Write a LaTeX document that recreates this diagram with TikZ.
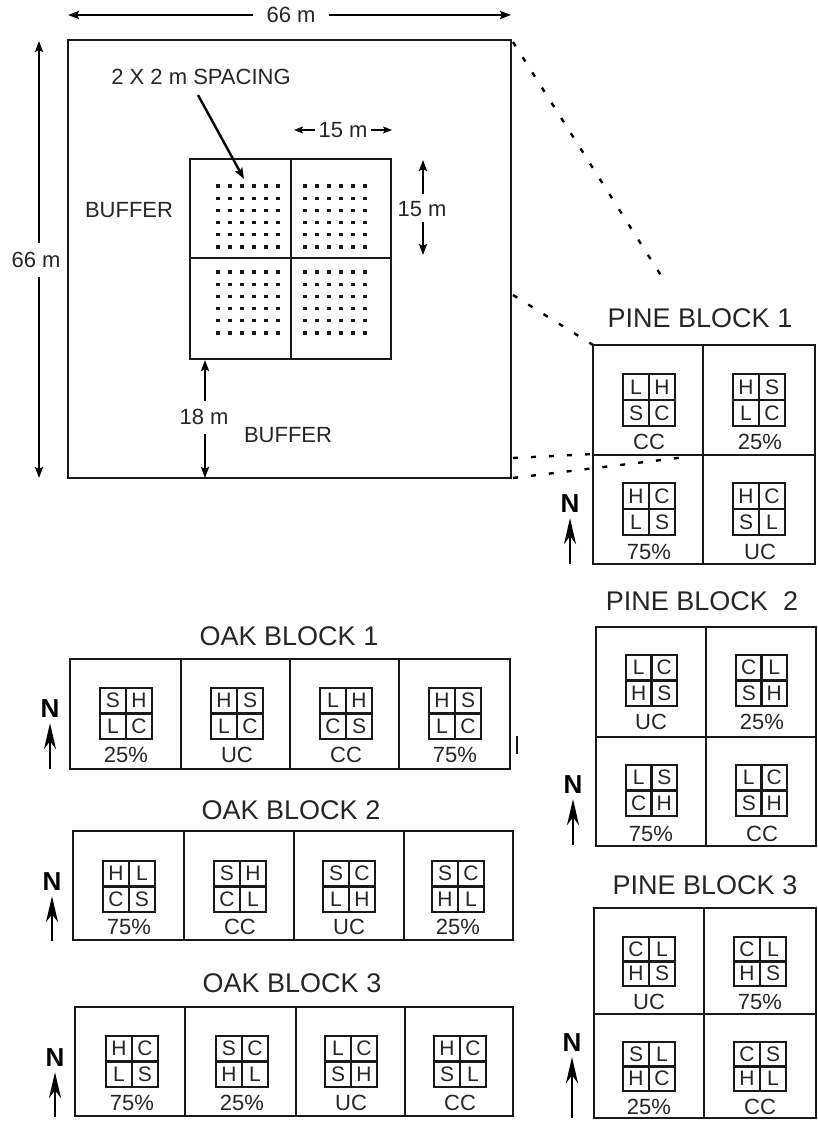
\documentclass[tikz,border=0pt]{standalone}
\usepackage{fontspec}
\setmainfont{Liberation Sans}
\usetikzlibrary{arrows.meta}
\newcommand{\fs}[1]{\fontsize{#1}{#1}\selectfont}
\tikzset{
  line/.style={draw=black!90,line width=1.8pt},
  thickrect/.style={draw=black!90,line width=2.4pt},
  cellrect/.style={draw=black!90,line width=2.8pt},
  dim/.style={line width=2.1pt,-{Stealth[length=11pt,width=8pt,inset=2pt]},shorten >=0pt},
  leader/.style={line width=2.4pt,dash pattern=on 5pt off 13pt},
  txt/.style={inner sep=0pt,font=\fs{22},text=black!85},
  title/.style={inner sep=0pt,font=\fs{27},text=black!85},
  letter/.style={inner sep=0pt,font=\fs{21},text=black!85},
  northn/.style={inner sep=0pt,font=\fs{26}\bfseries,text=black},
  northa/.style={line width=2.2pt,-{Stealth[length=26pt,width=12pt,inset=8pt]}},
}
\newcount\cellno
% left, top, width, height of the square; four letters; label centre y (unused slot kept for the label line)
\newcommand{\plotcell}[8]{%
  \global\advance\cellno by 1
  \pgfmathsetmacro{\pr}{#1+#3}\pgfmathsetmacro{\pb}{#2+#4}%
  \pgfmathsetmacro{\pcx}{#1+#3/2}\pgfmathsetmacro{\pcy}{#2+#4/2}%
  \pgfmathsetmacro{\qa}{#1+#3/4}\pgfmathsetmacro{\qb}{#1+3*#3/4}%
  \pgfmathsetmacro{\qc}{#2+#4/4}\pgfmathsetmacro{\qd}{#2+3*#4/4}%
  \draw[cellrect] (#1,#2) rectangle (\pr,\pb);
  \draw[cellrect,line width=2.3pt] (\pcx,#2) -- (\pcx,\pb) (#1,\pcy) -- (\pr,\pcy);
  \node[letter] (c\the\cellno a) at (\qa,\qc) {#5};
  \node[letter] (c\the\cellno b) at (\qb,\qc) {#6};
  \node[letter] (c\the\cellno c) at (\qa,\qd) {#7};
  \node[letter] (c\the\cellno d) at (\qb,\qd) {#8};
}
\newcommand{\north}[4]{% name, x, N y, arrow bottom
  \node[northn] (#1) at (#2,#3) {N};
  \coordinate (#1b) at (#2,#4);
  \draw[northa] (#1b) -- ([yshift=-5pt]#1.south);
}
\begin{document}
\begin{tikzpicture}[x=1pt,y=-1pt]
\useasboundingbox (0,0) rectangle (817,1124);
% main plot
\draw[thickrect] (68,40) rectangle (511,478);
\draw[thickrect] (190,159) rectangle (391,359);
\draw[thickrect] (291,159) -- (291,359) (190,258) -- (391,258);
\foreach \ox/\oy in {218/186,218/272,305/186,305/272}
  \foreach \i in {0,...,5}
    \foreach \j in {0,...,5}
      \fill[black!90] ({\ox+\i*12-1.6},{\oy+\j*12.2-1.6}) rectangle +(3.2,3.2);
% labels
\node[txt] (top66) at (291,15) {66 m};
\coordinate (topl) at (68,15); \coordinate (topr) at (511,15);
\draw[dim] ([xshift=-13pt]top66.west) -- (topl);
\draw[dim] ([xshift=13pt]top66.east) -- (topr);
\node[txt] (left66) at (36,260) {66 m};
\coordinate (leftt) at (39,41); \coordinate (leftb) at (39,478);
\draw[dim] ([yshift=9pt,xshift=3pt]left66.north) -- (leftt);
\draw[dim] ([yshift=-9pt,xshift=3pt]left66.south) -- (leftb);
\node[txt] (spacing) at (201,77) {2 X 2 m SPACING};
\coordinate (spacingend) at (244,179);
\draw[dim,line width=2.4pt] (198,95) -- (spacingend);
\node[txt] (hor15) at (343,130) {15 m};
\coordinate (hl) at (294,130); \coordinate (hr) at (392,130);
\draw[dim,-{Stealth[length=9pt,width=7pt,inset=2pt]}] ([xshift=-3pt]hor15.west) -- (hl);
\draw[dim,-{Stealth[length=9pt,width=7pt,inset=2pt]}] ([xshift=3pt]hor15.east) -- (hr);
\node[txt] (ver15) at (422,209) {15 m};
\coordinate (vt) at (423,160); \coordinate (vb) at (423,255);
\draw[dim] (423,194) -- (vt);
\draw[dim] (423,222) -- (vb);
\node[txt] (h18) at (204,417) {18 m};
\coordinate (ht) at (205,360); \coordinate (hb) at (205,478);
\draw[dim] (205,401) -- (ht);
\draw[dim] (205,434) -- (hb);
\node[txt] (buf1) at (129,210) {BUFFER};
\node[txt] (buf2) at (288,435) {BUFFER};
% leaders
\coordinate (m1) at (513,42); \coordinate (m2) at (513,295);
\coordinate (m3) at (513,458); \coordinate (m4) at (513,478);
\coordinate (p1a) at (667,285); \coordinate (p1b) at (593,345);
\coordinate (p1c) at (593,454); \coordinate (p1d) at (686,457);
\draw[leader] (m1) -- (p1a);
\draw[leader] (m2) -- (p1b);
\draw[leader] (m3) -- (p1c);
\draw[leader] (m4) -- (p1d);
% Pine 1
\node[title] (pine1t) at (700,318) {PINE BLOCK 1};
\draw[thickrect] (593,345) rectangle (815,564);
\draw[thickrect] (703,345) -- (703,564) (593,455) -- (815,455);
\plotcell{623}{374}{52}{52}{L}{H}{S}{C}\node[txt] (l1) at (649,442) {CC};
\plotcell{733}{374}{52}{52}{H}{S}{L}{C}\node[txt] (l2) at (760,442) {25\%};
\plotcell{623}{483}{52}{52}{H}{C}{L}{S}\node[txt] (l3) at (649,552) {75\%};
\plotcell{733}{483}{52}{52}{H}{C}{S}{L}\node[txt] (l4) at (760,552) {UC};
\north{n1}{570}{504}{564}
% Pine 2
\node[title] (pine2t) at (702,601) {PINE BLOCK\ \ 2};
\draw[thickrect] (596,627) rectangle (816,846);
\draw[thickrect] (706,627) -- (706,846) (596,737) -- (816,737);
\plotcell{626}{655}{51}{51}{L}{C}{H}{S}\node[txt] (l5) at (651,722) {UC};
\plotcell{736}{655}{51}{51}{C}{L}{S}{H}\node[txt] (l6) at (762,722) {25\%};
\plotcell{626}{765}{51}{51}{L}{S}{C}{H}\node[txt] (l7) at (651,834) {75\%};
\plotcell{736}{765}{51}{51}{L}{C}{S}{H}\node[txt] (l8) at (762,834) {CC};
\north{n2}{573}{785}{845}
% Pine 3
\node[title] (pine3t) at (705,885) {PINE BLOCK 3};
\draw[thickrect] (594,908) rectangle (816,1118);
\draw[thickrect] (704,908) -- (704,1118) (594,1014) -- (816,1014);
\plotcell{623}{937}{52}{49}{C}{L}{H}{S}\node[txt] (l9) at (649,1002) {UC};
\plotcell{734}{937}{52}{49}{C}{L}{H}{S}\node[txt] (l10) at (760,1002) {75\%};
\plotcell{623}{1042}{52}{49}{S}{L}{H}{C}\node[txt] (l11) at (649,1107) {25\%};
\plotcell{734}{1042}{52}{49}{C}{S}{H}{L}\node[txt] (l12) at (760,1107) {CC};
\north{n3}{572}{1043}{1118}
% Oak 1
\node[title] (oak1t) at (289,636) {OAK BLOCK 1};
\draw[thickrect] (70,659) rectangle (510,769);
\draw[thickrect] (181,659) -- (181,769) (290,659) -- (290,769) (399,659) -- (399,769);
\plotcell{100}{688}{52}{51}{S}{H}{L}{C}\node[txt] (l13) at (126,755) {25\%};
\plotcell{211}{688}{52}{51}{H}{S}{L}{C}\node[txt] (l14) at (237,755) {UC};
\plotcell{320}{688}{52}{51}{L}{H}{C}{S}\node[txt] (l15) at (346,755) {CC};
\plotcell{429}{688}{52}{51}{H}{S}{L}{C}\node[txt] (l16) at (455,755) {75\%};
\north{n4}{50}{709}{769}
\coordinate (tick1) at (517,736); \coordinate (tick2) at (517,754);
\draw[line] (tick1) -- (tick2);
% Oak 2
\node[title] (oak2t) at (291,810) {OAK BLOCK 2};
\draw[thickrect] (73,831) rectangle (513,940);
\draw[thickrect] (184,831) -- (184,940) (294,831) -- (294,940) (404,831) -- (404,940);
\plotcell{103}{861}{52}{51}{H}{L}{C}{S}\node[txt] (l17) at (129,927) {75\%};
\plotcell{214}{861}{52}{51}{S}{H}{C}{L}\node[txt] (l18) at (240,927) {CC};
\plotcell{323}{861}{52}{51}{S}{C}{L}{H}\node[txt] (l19) at (349,927) {UC};
\plotcell{432}{861}{52}{51}{S}{C}{H}{L}\node[txt] (l20) at (458,927) {25\%};
\north{n5}{52}{882}{941}
% Oak 3
\node[title] (oak3t) at (292,983) {OAK BLOCK 3};
\draw[thickrect] (75,1007) rectangle (513,1116);
\draw[thickrect] (185,1007) -- (185,1116) (296,1007) -- (296,1116) (405,1007) -- (405,1116);
\plotcell{106}{1036}{52}{51}{H}{C}{L}{S}\node[txt] (l21) at (132,1103) {75\%};
\plotcell{216}{1036}{52}{51}{S}{C}{H}{L}\node[txt] (l22) at (242,1103) {25\%};
\plotcell{325}{1036}{52}{51}{L}{C}{S}{H}\node[txt] (l23) at (351,1103) {UC};
\plotcell{434}{1036}{52}{51}{H}{C}{S}{L}\node[txt] (l24) at (460,1103) {CC};
\north{n6}{55}{1058}{1117}
\end{tikzpicture}
\end{document}
